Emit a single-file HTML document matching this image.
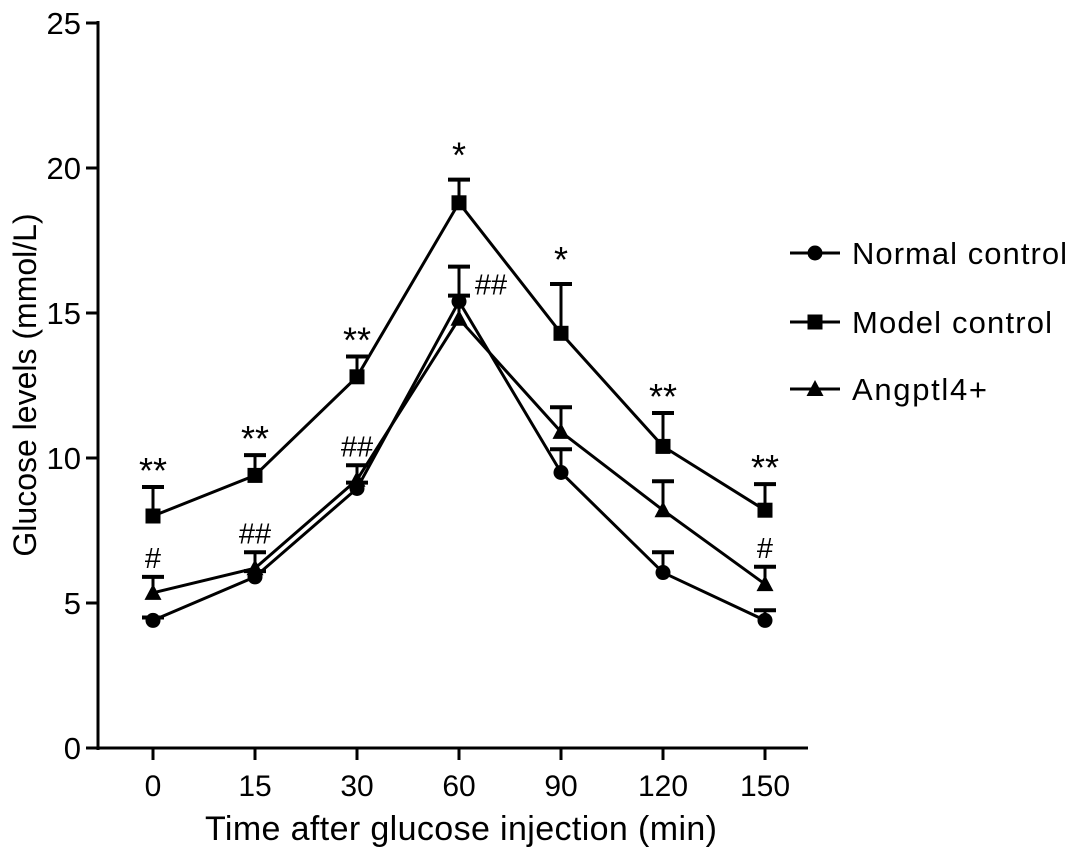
<!DOCTYPE html>
<html><head><meta charset="utf-8"><style>
body{margin:0;background:#fff;}
svg{display:block;font-family:"Liberation Sans",Arial,sans-serif;}
</style></head><body>
<svg id="chart" width="1078" height="859">
<g id="axes"></g>
<g id="plot"></g>
<g id="legend"></g>
</svg>
<script>
const categories = ["0","15","30","60","90","120","150"];
const yTicks = [0,5,10,15,20,25];
const normalVals = [4.4,5.9,8.95,15.4,9.5,6.05,4.4];
const normalErr = [0.1,0.2,0.2,1.2,0.8,0.7,0.35];
const modelVals = [8.0,9.4,12.8,18.8,14.3,10.4,8.2];
const modelErr = [1.0,0.7,0.7,0.8,1.7,1.15,0.9];
const angVals = [5.35,6.2,9.25,14.8,10.9,8.2,5.65];
const angErr = [0.55,0.55,0.5,0.8,0.85,1.0,0.6];
const modelMarks = ["**","**","**","*","*","**","**"];
const angMarks = ["#","##","##","##","","","#"];

const NS="http://www.w3.org/2000/svg";
const y=v=>748-v*29;
const x=i=>153+i*102;
function mk(tag,attrs,parent,txt){const e=document.createElementNS(NS,tag);for(const k in attrs)e.setAttribute(k,attrs[k]);if(txt!==undefined)e.textContent=txt;parent.appendChild(e);return e;}
const axes=document.getElementById('axes'),plot=document.getElementById('plot'),legend=document.getElementById('legend');
let e;
e=mk('line',{x1:98,y1:21,x2:98,y2:750,stroke:'#000','stroke-width':3},axes);


e=mk('line',{x1:96,y1:748,x2:808,y2:748,stroke:'#000','stroke-width':3},axes);


yTicks.forEach(t=>{
 mk('line',{x1:86,y1:y(t),x2:98,y2:y(t),stroke:'#000','stroke-width':3},axes);
 e=mk('text',{x:81,y:y(t)+11,'text-anchor':'end','font-size':31},axes,String(t));
 
 
});
categories.forEach((c,i)=>{
 mk('line',{x1:x(i),y1:748,x2:x(i),y2:760,stroke:'#000','stroke-width':3},axes);
 e=mk('text',{x:x(i),y:796,'text-anchor':'middle','font-size':30},axes,c);
 
 
});
e=mk('text',{x:461,y:840,'text-anchor':'middle','font-size':34,textLength:512},axes,'Time after glucose injection (min)');


e=mk('text',{x:0,y:0,'text-anchor':'middle','font-size':32,transform:'translate(36,385) rotate(-90)'},axes,'Glucose levels (mmol/L)');



function marker(type,cx,cy,g){
 if(type==='circle')return mk('circle',{cx:cx,cy:cy,r:7.5,fill:'#000'},g);
 if(type==='square')return mk('rect',{x:cx-7.5,y:cy-7.5,width:15,height:15,fill:'#000'},g);
 return mk('polygon',{points:`${cx},${cy-9} ${cx-8.5},${cy+7} ${cx+8.5},${cy+7}`,fill:'#000'},g);
}
function series(vals,errs,type,name){
 const g=mk('g',{},plot);
 
 
 vals.forEach((v,i)=>{
  const top=y(v+errs[i]);
  mk('line',{x1:x(i),y1:y(v),x2:x(i),y2:top,stroke:'#000','stroke-width':3},g);
  mk('line',{x1:x(i)-11,y1:top,x2:x(i)+11,y2:top,stroke:'#000','stroke-width':4},g);
 });
 e=mk('polyline',{points:vals.map((v,i)=>x(i)+','+y(v)).join(' '),fill:'none',stroke:'#000','stroke-width':3},g);
 
 
 vals.forEach((v,i)=>{
  e=marker(type,x(i),y(v),g);
  
  
 });
}
series(normalVals,normalErr,'circle','normal-control');
series(angVals,angErr,'triangle','angptl4');
series(modelVals,modelErr,'square','model-control');

modelMarks.forEach((m,i)=>{
 if(!m)return;
 e=mk('text',{x:x(i),y:y(modelVals[i]+modelErr[i])-12+(m==='*'?0:8),'text-anchor':'middle','font-size':36},plot,m);
 
 
});
angMarks.forEach((m,i)=>{
 if(!m)return;
 let cx=x(i),cy=y(angVals[i]+angErr[i])-9;
 if(i===3){cx=x(i)+32;cy=y(normalVals[i]+normalErr[i])+28;}
 e=mk('text',{x:cx,y:cy,'text-anchor':'middle','font-size':29},plot,m);
 
 
});

const legItems=[["Normal control","circle",253],["Model control","square",322],["Angptl4+","triangle",389]];
legItems.forEach(([label,type,ly])=>{
 const g=mk('g',{},legend);
 
 
 mk('line',{x1:790,y1:ly,x2:840,y2:ly,stroke:'#000','stroke-width':3},g);
 marker(type,815,ly,g);
 mk('text',{x:852,y:ly+11,'font-size':31,textLength:label==='Angptl4+'?135:(label==='Normal control'?215:200)},g,label);
});
</script>
</body></html>
